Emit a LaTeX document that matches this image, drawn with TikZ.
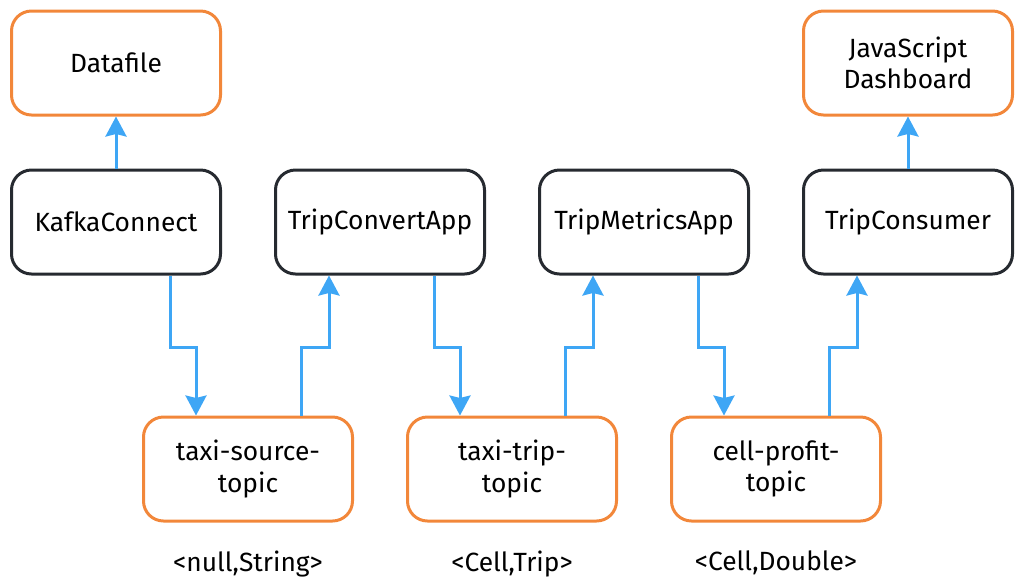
\documentclass[tikz,border=0pt]{standalone}
\usepackage{fontspec}
\setmainfont{Fira Sans}
\usepackage{tikz}
\usetikzlibrary{arrows.meta, positioning, calc}
\usepackage{xcolor}

\definecolor{topicorange}{RGB}{242,135,58}
\definecolor{appdark}{RGB}{38,42,48}
\definecolor{flowblue}{RGB}{62,166,245}

\tikzset{
  box/.style={rectangle, rounded corners=0.4cm, line width=0.06cm, minimum width=4.18cm, minimum height=2.08cm, align=center, font=\fontsize{15}{18}\selectfont},
  app/.style={box, draw=appdark},
  topic/.style={box, draw=topicorange},
  serde/.style={font=\fontsize{15}{18}\selectfont},
  flow/.style={draw=flowblue, line width=0.06cm, -{Stealth[length=0.4cm, width=0.42cm, inset=0.05cm]}}
}

\begin{document}
\begin{tikzpicture}
  \useasboundingbox (0,0) rectangle (20.48,-11.68);

  % streaming apps
  \node[app] (KafkaConnect) at (2.32,-4.44) {KafkaConnect};
  \node[app, right=1.04cm of KafkaConnect] (TripConvertApp) {TripConvertApp};
  \node[app, right=1.04cm of TripConvertApp] (TripMetricsApp) {TripMetricsApp};
  \node[app, right=1.04cm of TripMetricsApp] (TripConsumer) {TripConsumer};

  % source and sink
  \node[topic, above=1.04cm of KafkaConnect] (Datafile) {Datafile};
  \node[topic, above=1.04cm of TripConsumer] (Dashboard) {JavaScript\\Dashboard};

  % topics
  \coordinate (TaxiSourceSpot) at ($(KafkaConnect.south)!0.5!(TripConvertApp.south)$);
  \coordinate (TaxiTripSpot) at ($(TripConvertApp.south)!0.5!(TripMetricsApp.south)$);
  \coordinate (CellProfitSpot) at ($(TripMetricsApp.south)!0.5!(TripConsumer.south)$);
  \node[topic, below=2.8cm of TaxiSourceSpot] (TaxiSourceTopic) {taxi-source-\\topic};
  \node[topic, below=2.8cm of TaxiTripSpot] (TaxiTripTopic) {taxi-trip-\\topic};
  \node[topic, below=2.8cm of CellProfitSpot] (CellProfitTopic) {cell-profit-\\topic};

  \node[serde, below=0.45cm of TaxiSourceTopic] (TaxiSourceSerde) {<null,String>};
  \node[serde, below=0.45cm of TaxiTripTopic] (TaxiTripSerde) {<Cell,Trip>};
  \node[serde, below=0.45cm of CellProfitTopic] (CellProfitSerde) {<Cell,Double>};

  % flows
  \draw[flow] (KafkaConnect) -- (Datafile);
  \draw[flow] (TripConsumer) -- (Dashboard);
  \draw[flow] ([xshift=1.08cm]KafkaConnect.south) -- ++(0,-1.44) -| ([xshift=-1.04cm]TaxiSourceTopic.north);
  \draw[flow] ([xshift=1.06cm]TaxiSourceTopic.north) -- ++(0,1.36) -| ([xshift=-1.02cm]TripConvertApp.south);
  \draw[flow] ([xshift=1.08cm]TripConvertApp.south) -- ++(0,-1.44) -| ([xshift=-1.04cm]TaxiTripTopic.north);
  \draw[flow] ([xshift=1.06cm]TaxiTripTopic.north) -- ++(0,1.36) -| ([xshift=-1.02cm]TripMetricsApp.south);
  \draw[flow] ([xshift=1.08cm]TripMetricsApp.south) -- ++(0,-1.44) -| ([xshift=-1.04cm]CellProfitTopic.north);
  \draw[flow] ([xshift=1.06cm]CellProfitTopic.north) -- ++(0,1.36) -| ([xshift=-1.02cm]TripConsumer.south);
\end{tikzpicture}
\end{document}
